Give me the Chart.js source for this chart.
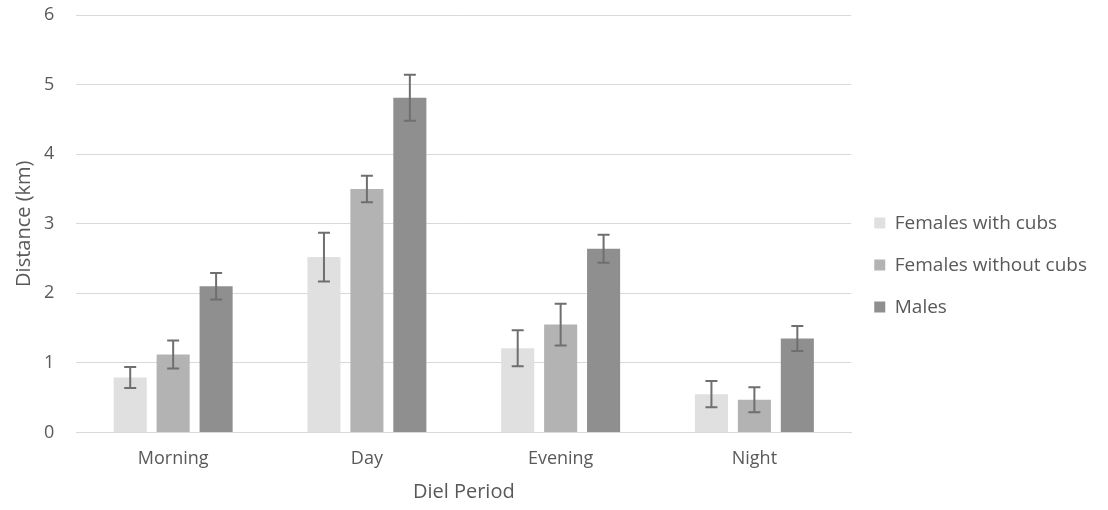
<!DOCTYPE html>
<html>
<head>
<meta charset="utf-8">
<script src="https://cdn.jsdelivr.net/npm/chart.js@4/dist/chart.umd.min.js"></script>
<style>
  html, body { margin: 0; padding: 0; background: #fff; }
  #wrap { width: 1108px; height: 510px; }
</style>
</head>
<body>
<div id="wrap"><canvas id="grafico"></canvas></div>
<script>
// Períodos e valores
const periodos = ['Morning', 'Day', 'Evening', 'Night'];
const femeasComFilhotes = [0.79, 2.52, 1.21, 0.55];
const femeasSemFilhotes = [1.12, 3.50, 1.55, 0.47];
const machos = [2.10, 4.81, 2.64, 1.35];
// barras de erro (+/-)
const erroComFilhotes = [0.15, 0.35, 0.26, 0.19];
const erroSemFilhotes = [0.20, 0.19, 0.30, 0.18];
const erroMachos = [0.19, 0.33, 0.20, 0.18];
const ticksY = [0, 1, 2, 3, 4, 5, 6];

const corTexto = '#595959';
const fonte = "'Open Sans', sans-serif";

// plugin simples para desenhar as barras de erro
const barrasErro = {
  id: 'barrasErro',
  afterDatasetsDraw(chart) {
    const ctx = chart.ctx;
    const y = chart.scales.y;
    ctx.save();
    ctx.strokeStyle = '#6f6f6f';
    ctx.lineWidth = 2;
    chart.data.datasets.forEach((ds, i) => {
      const meta = chart.getDatasetMeta(i);
      meta.data.forEach((bar, j) => {
        const v = ds.data[j];
        const e = ds.erro[j];
        const yTop = y.getPixelForValue(v + e);
        const yBot = y.getPixelForValue(v - e);
        const x = bar.x;
        ctx.beginPath();
        ctx.moveTo(x, yTop); ctx.lineTo(x, yBot);
        ctx.moveTo(x - 6, yTop); ctx.lineTo(x + 6, yTop);
        ctx.moveTo(x - 6, yBot); ctx.lineTo(x + 6, yBot);
        ctx.stroke();
      });
    });
    ctx.restore();
  }
};

new Chart(document.getElementById('grafico'), {
  type: 'bar',
  data: {
    labels: periodos,
    datasets: [
      { label: 'Females with cubs', data: femeasComFilhotes, erro: erroComFilhotes, backgroundColor: '#e0e0e0' },
      { label: 'Females without cubs', data: femeasSemFilhotes, erro: erroSemFilhotes, backgroundColor: '#b3b3b3' },
      { label: 'Males', data: machos, erro: erroMachos, backgroundColor: '#8f8f8f' }
    ]
  },
  options: {
    responsive: true,
    maintainAspectRatio: false,
    animation: false,
    layout: { autoPadding: false, padding: { top: 15, left: 11, right: 11, bottom: 2 } },
    datasets: {
      bar: { categoryPercentage: 0.665, barPercentage: 0.77 }
    },
    plugins: {
      tooltip: { enabled: false },
      legend: {
        position: 'right',
        title: { display: true, text: ' ', font: { size: 1 }, padding: 3 },
        labels: {
          boxWidth: 11,
          boxHeight: 11,
          padding: 23,
          color: corTexto,
          font: { family: fonte, size: 19 }
        }
      }
    },
    scales: {
      x: {
        grid: { display: false },
        border: { color: '#d9d9d9', width: 1 },
        ticks: { color: corTexto, font: { family: fonte, size: 18 }, padding: 8 },
        title: { display: true, text: 'Diel Period', color: corTexto, font: { family: fonte, size: 20 }, padding: { top: 2 } }
      },
      y: {
        min: 0,
        max: 6,
        afterBuildTicks: scale => { scale.ticks = ticksY.map(v => ({ value: v })); },
        // sem folga extra acima do 6
        afterFit: scale => { scale.paddingTop = 0; scale.paddingBottom = 0; },
        grid: { color: '#d9d9d9', lineWidth: 1, drawTicks: false },
        border: { display: false },
        ticks: { color: corTexto, font: { family: fonte, size: 18 }, padding: 22 },
        title: { display: true, text: 'Distance (km)', color: corTexto, font: { family: fonte, size: 20 }, padding: { top: 1, bottom: -14 } }
      }
    }
  },
  plugins: [barrasErro]
});
</script>
</body>
</html>
